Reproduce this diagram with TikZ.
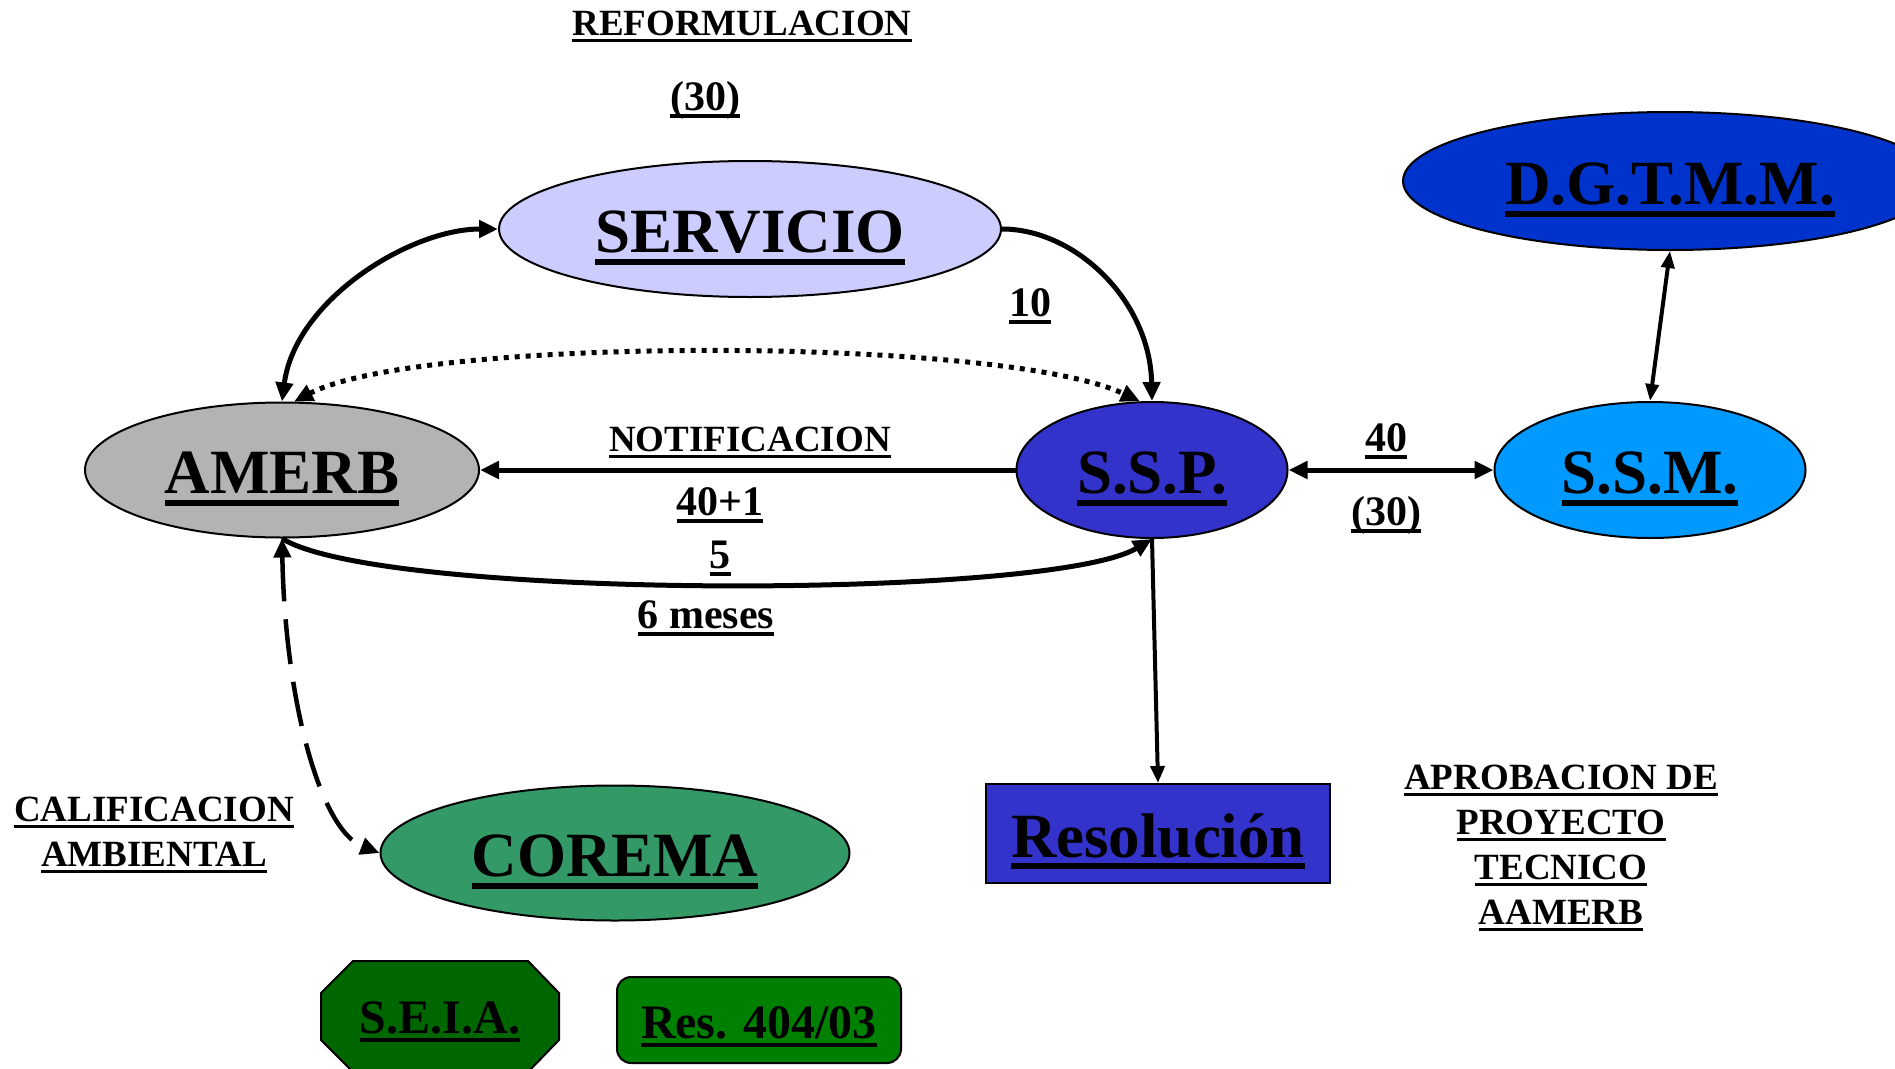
\documentclass[tikz,border=0pt]{standalone}
\usepackage{fontspec}
\setmainfont{Liberation Serif}
\usetikzlibrary{arrows.meta,shapes.geometric}
\definecolor{servc}{HTML}{CCCCFF}
\definecolor{amerbc}{HTML}{B3B3B3}
\definecolor{sspc}{HTML}{3333CC}
\definecolor{ssmc}{HTML}{0099FF}
\definecolor{dgtc}{HTML}{0033CC}
\definecolor{coremac}{HTML}{339966}
\definecolor{seiac}{HTML}{006600}
\definecolor{resc}{HTML}{008000}
\newcommand\ulbox[1]{\setbox0\hbox{#1}\dp0=0pt\vtop{\box0\kern0.1em\hrule height 0.095em}}
\tikzset{
  ell/.style={ellipse, draw=black, line width=2pt, inner sep=0pt, text height=47pt, text depth=0pt},
  big/.style={font=\fontsize{63}{70}\selectfont\bfseries},
  lbl/.style={font=\fontsize{37}{45}\selectfont\bfseries, inner sep=0pt, anchor=base, align=center},
  num/.style={lbl, font=\fontsize{42}{48}\selectfont\bfseries},
  conn/.style={line width=5pt},
}
\begin{document}
\begin{tikzpicture}[x=1pt,y=-1pt,>={Triangle[length=19pt,width=17pt]}]
\useasboundingbox (0,0) rectangle (1895,1068);
\clip (0,0) rectangle (1895,1068);

% nodes
\node[ell, big, fill=servc, minimum width=502pt, minimum height=136pt] (serv) at (750,229) {\ulbox{SERVICIO}};
\node[ell, big, fill=amerbc, minimum width=394pt, minimum height=135pt] (amerb) at (282,470) {\ulbox{AMERB}};
\node[ell, big, fill=sspc, minimum width=271pt, minimum height=136pt] (ssp) at (1152,470) {\ulbox{S.S.P.}};
\node[ell, big, fill=ssmc, minimum width=311pt, minimum height=136pt] (ssm) at (1650,470) {\ulbox{S.S.M.}};
\node[ell, big, fill=dgtc, minimum width=534pt, minimum height=138pt] (dgt) at (1670,181) {\ulbox{D.G.T.M.M.}};
\node[ell, big, fill=coremac, minimum width=469pt, minimum height=135pt] (corema) at (615,853) {\ulbox{COREMA}};
\node[rectangle, draw=black, line width=2pt, fill=sspc, big, inner sep=0pt, minimum width=344pt, minimum height=99pt, text height=47pt, text depth=0pt] (resol) at (1158,833.5) {\ulbox{Resolución}};

\filldraw[fill=seiac, draw=black, line width=2pt] (353,961) -- (528,961) -- (559,993) -- (559,1040) -- (528,1072) -- (353,1072) -- (321,1040) -- (321,993) -- cycle;
\node[font=\fontsize{48}{55}\selectfont\bfseries, inner sep=0pt, text height=33pt, text depth=0pt] (seia) at (440,1016.5) {\ulbox{S.E.I.A.}};
\node[rectangle, rounded corners=14pt, draw=black, line width=2pt, fill=resc, font=\fontsize{48}{55}\selectfont\bfseries, inner sep=0pt, minimum width=284pt, minimum height=86pt, text height=36pt, text depth=0pt] (res404) at (759,1020) {\ulbox{Res. 404/03}};

% connectors
\draw[conn, <->] (amerb.north) .. controls (295,300) and (410,229) .. (serv.west);
\draw[conn, ->] (serv.east) .. controls (1075,229) and (1150,300) .. (ssp.north);
\draw[conn, dash pattern=on 5pt off 6pt, <->] (amerb.80) .. controls (420,336) and (1000,336) .. (ssp.100);
\draw[conn, ->] (ssp.west) -- (amerb.east);
\draw[conn, ->] (amerb.south) .. controls (380,600) and (1050,600) .. (ssp.south);
\draw[line width=4.5pt, dash pattern=on 45pt off 18pt, <->] (amerb.south) .. controls (285,700) and (320,830) .. (corema.west);
\draw[conn, <->] (ssp.east) -- (ssm.west);
\draw[line width=4pt, >={Triangle[length=17pt,width=13pt]}, <->] (dgt.south) -- (ssm.north);
\draw[line width=4pt, >={Triangle[length=17pt,width=14pt]}, ->] (ssp.south) -- (resol.north);

% labels
\node[lbl] (reform) at (742,35) {\ulbox{REFORMULACION}};
\node[num] (t30a) at (705,110) {\ulbox{(30)}};
\node[num] (t10) at (1030,316) {\ulbox{10}};
\node[lbl] (notif) at (750,451) {\ulbox{NOTIFICACION}};
\node[num] (t401) at (720,515) {\ulbox{40+1}};
\node[num] (t5) at (720,568) {\ulbox{5}};
\node[num] (t6m) at (706,628) {\ulbox{6 meses}};
\node[num] (t40) at (1386,451) {\ulbox{40}};
\node[num] (t30b) at (1386,525) {\ulbox{(30)}};
\node[lbl] (calif) at (154,866) {\ulbox{CALIFICACION}\\\ulbox{AMBIENTAL}};
\node[lbl] (aprob) at (1561,924) {\ulbox{APROBACION DE}\\\ulbox{PROYECTO}\\\ulbox{TECNICO}\\\ulbox{AAMERB}};
\end{tikzpicture}
\end{document}
